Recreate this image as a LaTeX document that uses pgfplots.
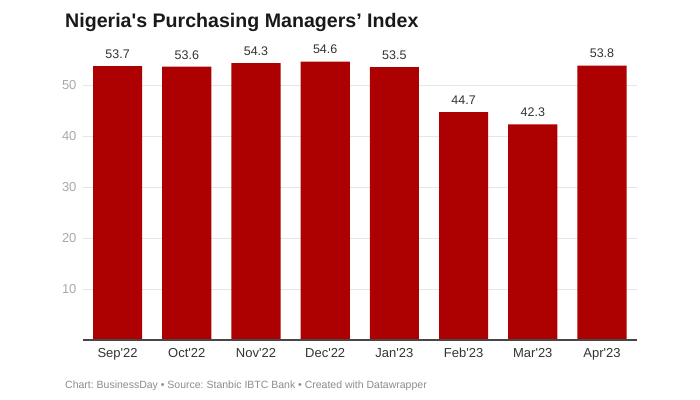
\documentclass[border=0pt]{standalone}
\usepackage{fontspec}
\setmainfont{Liberation Sans}
\usepackage{pgfplots}
\pgfplotsset{compat=1.18}
\definecolor{barred}{HTML}{AD0000}
\definecolor{txt}{HTML}{333333}
\definecolor{ticktxt}{HTML}{A8A8A8}
\definecolor{gridc}{HTML}{E6E6E6}
\definecolor{foot}{HTML}{8C8C8C}
\frenchspacing
\begin{document}
\begin{tikzpicture}
\path[use as bounding box] (0,0) rectangle (700bp,400bp);
\begin{axis}[
  at={(83bp,60bp)}, anchor=south west,
  scale only axis,
  width=553.6bp, height=280.5bp,
  xmin=-0.5, xmax=7.5,
  ymin=0, ymax=55,
  axis line style={draw=none},
  xtick=data,
  xticklabels={Sep\textquotesingle22,Oct\textquotesingle22,Nov\textquotesingle22,Dec\textquotesingle22,Jan\textquotesingle23,Feb\textquotesingle23,Mar\textquotesingle23,Apr\textquotesingle23},
  ytick={10,20,30,40,50},
  major tick length=0pt,
  ymajorgrids,
  grid style={draw=gridc, line width=0.8bp},
  /pgf/number format/assume math mode=true,
  yticklabel style={font=\fontsize{13bp}{15bp}\selectfont, text=ticktxt, xshift=-3bp},
  xticklabel style={font=\fontsize{13bp}{15bp}\selectfont, text=txt, yshift=-5bp},
  ybar, bar width=0.71,
  nodes near coords,
  every node near coord/.append style={font=\fontsize{12.5bp}{15bp}\selectfont, text=txt, yshift=4bp},
  nodes near coords style={/pgf/number format/.cd, fixed, fixed zerofill, precision=1},
  clip=false,
]
\addplot[fill=barred, draw=none] coordinates {(0,53.7) (1,53.6) (2,54.3) (3,54.6) (4,53.5) (5,44.7) (6,42.3) (7,53.8)};
\draw[draw=txt!90, line width=1.5bp] (axis cs:-0.5,0) -- (axis cs:7.5,0);
\end{axis}
\node[anchor=base west, inner sep=0pt, font=\fontsize{19.6bp}{24bp}\selectfont\bfseries, text=black!90] at (65bp,372bp) {Nigeria\textquotesingle s Purchasing Managers’ Index};
\node[anchor=base west, inner sep=0pt, font=\fontsize{10.5bp}{13bp}\selectfont, text=foot] at (65bp,12bp) {Chart: BusinessDay • Source: Stanbic IBTC Bank • Created with Datawrapper};
\end{tikzpicture}
\end{document}
